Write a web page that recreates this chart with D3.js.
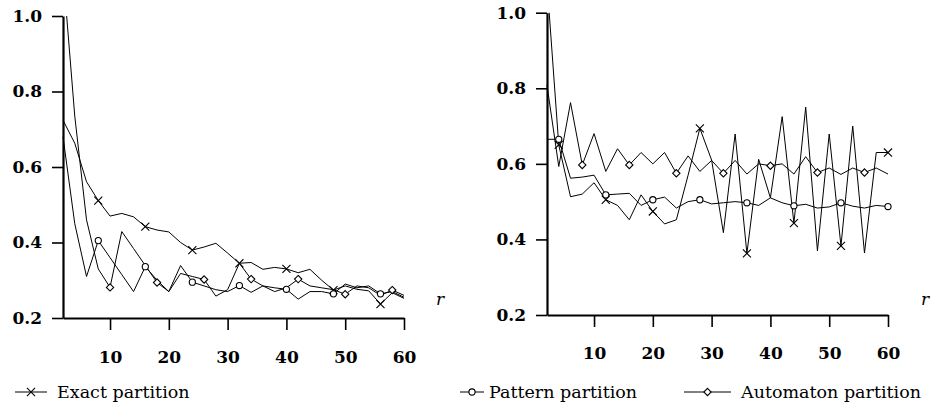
<!DOCTYPE html>
<html>
<head>
<meta charset="utf-8">
<script src="https://cdn.jsdelivr.net/npm/d3@7"></script>
<style>
  body { margin: 0; background: #ffffff; }
  svg { display: block; }
</style>
</head>
<body>
<script>
// DATA
var rValues = [2, 4, 6, 8, 10, 12, 14, 16, 18, 20, 22, 24, 26, 28, 30,
               32, 34, 36, 38, 40, 42, 44, 46, 48, 50, 52, 54, 56, 58, 60];
var yTicks = [0.2, 0.4, 0.6, 0.8, 1.0];
var xTicks = [10, 20, 30, 40, 50, 60];
var seriesNames = ["Exact partition", "Pattern partition", "Automaton partition"];

// left panel
var leftExact = [0.724, 0.663, 0.561, 0.511, 0.470, 0.477, 0.468, 0.442, 0.433, 0.428,
                 0.400, 0.380, 0.388, 0.398, 0.372, 0.345, 0.347, 0.329, 0.334, 0.330,
                 0.320, 0.329, 0.300, 0.274, 0.285, 0.276, 0.272, 0.237, 0.267, 0.252];
var leftPattern = [0.680, 0.450, 0.310, 0.405, 0.360, 0.315, 0.270, 0.336, 0.300, 0.270,
                   0.339, 0.295, 0.285, 0.275, 0.270, 0.286, 0.268, 0.285, 0.280, 0.276,
                   0.250, 0.270, 0.270, 0.264, 0.290, 0.280, 0.285, 0.264, 0.270, 0.255];
var leftAuto = [1.120, 0.735, 0.460, 0.330, 0.281, 0.429, 0.384, 0.339, 0.294, 0.270,
                0.318, 0.310, 0.302, 0.258, 0.275, 0.345, 0.303, 0.285, 0.270, 0.280,
                0.303, 0.285, 0.280, 0.275, 0.263, 0.285, 0.280, 0.260, 0.274, 0.260];
var leftExactMarks = [8, 16, 24, 32, 40, 48, 56];
var leftPatternMarks = [8, 16, 24, 32, 40, 48, 56];
var leftAutoMarks = [10, 18, 26, 34, 42, 50, 58];

// right panel
var rightExact = [1.080, 0.650, 0.513, 0.520, 0.550, 0.505, 0.490, 0.452, 0.518, 0.474,
                  0.441, 0.452, 0.570, 0.694, 0.610, 0.418, 0.679, 0.363, 0.612, 0.510,
                  0.725, 0.443, 0.750, 0.370, 0.679, 0.383, 0.700, 0.364, 0.630, 0.630];
var rightPattern = [0.665, 0.665, 0.562, 0.565, 0.570, 0.518, 0.520, 0.522, 0.490, 0.505,
                    0.512, 0.483, 0.500, 0.505, 0.494, 0.497, 0.500, 0.497, 0.490, 0.510,
                    0.497, 0.489, 0.493, 0.483, 0.486, 0.497, 0.488, 0.483, 0.490, 0.487];
var rightAuto = [0.808, 0.593, 0.762, 0.597, 0.680, 0.580, 0.640, 0.597, 0.630, 0.600,
                 0.630, 0.575, 0.621, 0.580, 0.609, 0.575, 0.609, 0.573, 0.600, 0.595,
                 0.600, 0.573, 0.619, 0.577, 0.589, 0.572, 0.589, 0.577, 0.589, 0.573];
var rightExactMarks = [4, 12, 20, 28, 36, 44, 52, 60];
var rightPatternMarks = [4, 12, 20, 28, 36, 44, 52, 60];
var rightAutoMarks = [8, 16, 24, 32, 40, 48, 56];

// STYLE
var fontFamily = "'DejaVu Serif', 'Liberation Serif', serif";
var fontSize = 17;
var ink = "#000000";
var symbols = [d3.symbol(d3.symbolX).size(44),
               d3.symbol(d3.symbolCircle).size(30),
               d3.symbol(d3.symbolDiamond2).size(34)];

var svg = d3.select("body").append("svg")
  .attr("width", 934)
  .attr("height", 410)
  .style("background", "#ffffff");

function drawPanel(p) {
  var x = d3.scaleLinear().domain([2, 60]).range([p.x0, p.x1]);
  var y = d3.scaleLinear().domain([0.2, 1.0]).range([p.y0, p.y1]);

  var clipId = "clip-" + p.name;
  svg.append("clipPath").attr("id", clipId)
    .append("rect")
    .attr("x", p.x0 - 2).attr("y", p.y1)
    .attr("width", p.x1 - p.x0 + 10).attr("height", p.y0 - p.y1 + 20);

  var g = svg.append("g");

  var line = d3.line()
    .x(function(d, i) { return x(rValues[i]); })
    .y(function(d) { return y(d); });

  var lines = g.append("g").attr("clip-path", "url(#" + clipId + ")");
  p.series.forEach(function(s) {
    lines.append("path")
      .attr("d", line(s))
      .attr("fill", "none")
      .attr("stroke", ink)
      .attr("stroke-width", 1);
  });

  // markers
  p.series.forEach(function(s, k) {
    p.marks[k].forEach(function(r) {
      var v = s[rValues.indexOf(r)];
      g.append("path")
        .attr("d", symbols[k]())
        .attr("transform", "translate(" + x(r) + "," + y(v) + ")")
        .attr("fill", k === 0 ? "none" : "#ffffff")
        .attr("stroke", ink)
        .attr("stroke-width", 1.1);
    });
  });

  var yAxis = g.append("g")
    .attr("transform", "translate(" + p.x0 + ",0)")
    .call(d3.axisLeft(y).tickValues(yTicks).tickFormat(d3.format(".1f"))
      .tickSize(11).tickSizeOuter(0).tickPadding(10));

  var xAxis = g.append("g")
    .attr("transform", "translate(0," + p.y0 + ")")
    .call(d3.axisBottom(x).tickValues(xTicks).tickFormat(d3.format("d"))
      .tickSize(12).tickSizeOuter(0).tickPadding(p.xPad));

  [yAxis, xAxis].forEach(function(a) {
    a.select(".domain").attr("stroke", ink).attr("stroke-width", 2.2);
    a.selectAll(".tick line").attr("stroke", ink).attr("stroke-width", 1.6);
    a.selectAll(".tick text")
      .attr("fill", ink)
      .attr("font-family", fontFamily)
      .attr("font-weight", "bold")
      .attr("font-size", fontSize);
  });

  g.append("text")
    .attr("x", p.rx).attr("y", p.ry)
    .attr("text-anchor", "middle")
    .attr("font-family", fontFamily)
    .attr("font-style", "italic")
    .attr("font-size", 17)
    .attr("fill", ink)
    .text("r");
}

drawPanel({
  name: "left", x0: 63, x1: 404, y0: 318, y1: 16, xPad: 21, rx: 440, ry: 305,
  series: [leftExact, leftPattern, leftAuto],
  marks: [leftExactMarks, leftPatternMarks, leftAutoMarks]
});

drawPanel({
  name: "right", x0: 547, x1: 888, y0: 315, y1: 12.7, xPad: 20, rx: 925, ry: 305,
  series: [rightExact, rightPattern, rightAuto],
  marks: [rightExactMarks, rightPatternMarks, rightAutoMarks]
});

// LEGEND
var legendX = [{l0: 15, l1: 47, tx: 57},
               {l0: 460, l1: 484, tx: 489},
               {l0: 684, l1: 731, tx: 741}];
var legend = svg.append("g");
seriesNames.forEach(function(name, k) {
  var pos = legendX[k];
  legend.append("line")
    .attr("x1", pos.l0).attr("x2", pos.l1)
    .attr("y1", 392).attr("y2", 392)
    .attr("stroke", ink).attr("stroke-width", 1);
  legend.append("path")
    .attr("d", symbols[k]())
    .attr("transform", "translate(" + (pos.l0 + pos.l1) / 2 + ",392)")
    .attr("fill", k === 0 ? "none" : "#ffffff")
    .attr("stroke", ink)
    .attr("stroke-width", 1.1);
  legend.append("text")
    .attr("x", pos.tx).attr("y", 398)
    .attr("font-family", fontFamily)
    .attr("font-size", 17.5)
    .attr("fill", ink)
    .text(name);
});
</script>
</body>
</html>
